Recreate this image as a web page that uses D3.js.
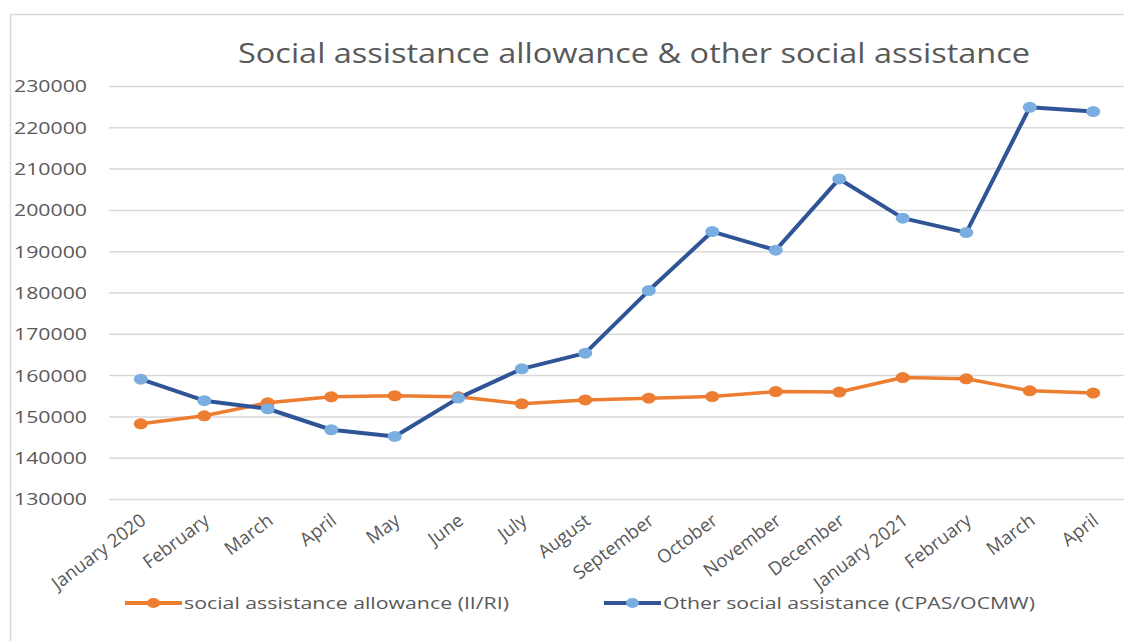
<!DOCTYPE html>
<html>
<head>
<meta charset="utf-8">
<script src="https://cdn.jsdelivr.net/npm/d3@7"></script>
<style>
  body { margin: 0; background: #fff; }
  text { font-family: "Open Sans", sans-serif; fill: #595959; }
</style>
</head>
<body>
<script>
//Chart size and layout
var W = 1124;
var H = 641;
var PlotLeft = 109;
var PlotRight = 1125;
var PlotTop = 86;
var PlotBottom = 499;

//Data
var months = ["January 2020", "February", "March", "April", "May", "June", "July",
  "August", "September", "October", "November", "December", "January 2021",
  "February ", "March ", "April "];
var allowance = [148200, 150150, 153300, 154750, 155000, 154750, 153050, 154000,
  154400, 154800, 156000, 155900, 159400, 159100, 156200, 155650];
var otherAssistance = [159000, 153800, 151850, 146770, 145150, 154430, 161520, 165320,
  180470, 194750, 190250, 207500, 198000, 194500, 224850, 223800];
var yTicks = [130000, 140000, 150000, 160000, 170000, 180000, 190000, 200000,
  210000, 220000, 230000];
var seriesNames = ["social assistance allowance (II/RI)", "Other social assistance (CPAS/OCMW)"];

var orange = "#ED7D31";
var darkBlue = "#2F5597";
var lightBlue = "#7AAEE0";

function main() {
  var svg = d3.select("body").append("svg")
    .attr("width", W)
    .attr("height", H);

  //Chart frame
  svg.append("rect")
    .attr("x", 10.5).attr("y", 14.5)
    .attr("width", 1200).attr("height", 700)
    .attr("fill", "none")
    .attr("stroke", "#d9d9d9")
    .attr("stroke-width", 1.5);

  var xScale = d3.scalePoint()
    .domain(months)
    .range([PlotLeft, PlotRight])
    .padding(0.5);

  var yScale = d3.scaleLinear()
    .domain([130000, 230000])
    .range([PlotBottom, PlotTop]);

  //Title
  svg.append("text")
    .attr("x", 634).attr("y", 63)
    .attr("text-anchor", "middle")
    .attr("font-size", "27px")
    .attr("textLength", 792)
    .attr("lengthAdjust", "spacingAndGlyphs")
    .text("Social assistance allowance & other social assistance");

  //Y axis with gridlines
  var yAxis = svg.append("g")
    .attr("transform", "translate(" + PlotLeft + ",0)")
    .call(d3.axisLeft(yScale)
      .tickValues(yTicks)
      .tickFormat(d3.format("d"))
      .tickSize(-(PlotRight - PlotLeft))
      .tickPadding(22));
  yAxis.select(".domain").remove();
  yAxis.selectAll("line").attr("stroke", "#d9d9d9").attr("stroke-width", 1.5);
  yAxis.selectAll("text")
    .attr("font-size", "17px")
    .attr("font-family", "\"Open Sans\", sans-serif")
    .attr("fill", "#595959")
    .attr("textLength", 73)
    .attr("lengthAdjust", "spacingAndGlyphs")
    .attr("dy", "0.35em");

  //X axis labels
  var xAxis = svg.append("g")
    .attr("transform", "translate(0," + PlotBottom + ")")
    .call(d3.axisBottom(xScale).tickSize(0).tickPadding(0));
  xAxis.select(".domain").remove();
  xAxis.selectAll("text")
    .attr("font-size", "18.5px")
    .attr("font-family", "\"Open Sans\", sans-serif")
    .attr("fill", "#595959")
    .attr("text-anchor", "end")
    .attr("y", 0)
    .attr("dy", 0)
    .attr("transform", "translate(6,24) rotate(-37)");

  var line = d3.line()
    .x(function(d, i) { return xScale(months[i]); })
    .y(function(d) { return yScale(d); });

  drawSeries(svg, allowance, line, xScale, yScale, orange, orange, 3.5);
  drawSeries(svg, otherAssistance, line, xScale, yScale, darkBlue, lightBlue, 4);

  //Legend
  var legend = [
    { name: seriesNames[0], stroke: orange, fill: orange, x: 125, len: 325 },
    { name: seriesNames[1], stroke: darkBlue, fill: lightBlue, x: 604, len: 372 }
  ];
  var items = svg.selectAll(".legend")
    .data(legend)
    .enter()
    .append("g")
    .attr("class", "legend")
    .attr("transform", function(d) { return "translate(" + d.x + ",603)"; });
  items.append("line")
    .attr("x1", 0).attr("x2", 57)
    .attr("stroke", function(d) { return d.stroke; })
    .attr("stroke-width", 4);
  items.append("ellipse")
    .attr("cx", 28.5).attr("rx", 6.5).attr("ry", 5)
    .attr("fill", function(d) { return d.fill; });
  items.append("text")
    .attr("x", 59).attr("y", 6)
    .attr("font-size", "17px")
    .attr("textLength", function(d) { return d.len; })
    .attr("lengthAdjust", "spacingAndGlyphs")
    .text(function(d) { return d.name; });
}

function drawSeries(svg, values, line, xScale, yScale, stroke, fill, width) {
  //Draws one line with its markers
  svg.append("path")
    .datum(values)
    .attr("d", line)
    .attr("fill", "none")
    .attr("stroke", stroke)
    .attr("stroke-width", width)
    .attr("stroke-linejoin", "round");
  svg.append("g").selectAll("ellipse")
    .data(values)
    .enter()
    .append("ellipse")
    .attr("cx", function(d, i) { return xScale(months[i]); })
    .attr("cy", function(d) { return yScale(d); })
    .attr("rx", 7)
    .attr("ry", 5.5)
    .attr("fill", fill);
}

main();
</script>
</body>
</html>
